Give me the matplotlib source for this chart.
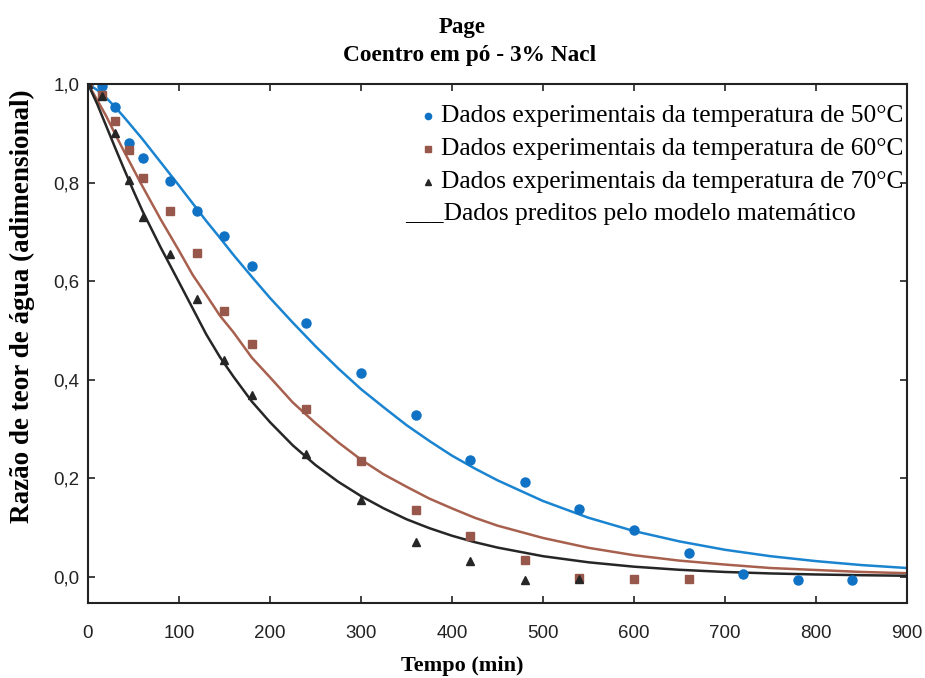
import matplotlib
matplotlib.use("Agg")
import matplotlib.pyplot as plt
from matplotlib.ticker import FuncFormatter

# experimental data (time in min, moisture ratio)
t_50 = [0, 15, 30, 45, 60, 90, 120, 150, 180, 240, 300, 360, 420, 480, 540, 600, 660, 720, 780, 840]
mr_50 = [1.0, 0.995, 0.953, 0.88, 0.85, 0.803, 0.742, 0.692, 0.631, 0.515, 0.414, 0.329, 0.237,
         0.193, 0.138, 0.095, 0.049, 0.006, -0.006, -0.006]

t_60 = [0, 15, 30, 45, 60, 90, 120, 150, 180, 240, 300, 360, 420, 480, 540, 600, 660]
mr_60 = [1.0, 0.977, 0.925, 0.866, 0.809, 0.742, 0.657, 0.54, 0.473, 0.341, 0.235, 0.136,
         0.083, 0.034, -0.003, -0.005, -0.005]

t_70 = [0, 15, 30, 45, 60, 90, 120, 150, 180, 240, 300, 360, 420, 480, 540]
mr_70 = [1.0, 0.975, 0.90, 0.805, 0.73, 0.655, 0.564, 0.44, 0.369, 0.25, 0.156, 0.071,
         0.032, -0.006, -0.004]

# predicted curves (Page model)
t_model = [0, 10, 20, 30, 40, 50, 60, 80, 100, 115, 130, 145, 160, 180, 200, 225, 250, 275,
           300, 325, 350, 375, 400, 425, 450, 500, 550, 600, 650, 700, 750, 800, 850, 900]
model_50 = [1.0, 0.988, 0.972, 0.953, 0.932, 0.910, 0.888, 0.841, 0.794, 0.758, 0.722, 0.688,
            0.653, 0.609, 0.566, 0.516, 0.468, 0.423, 0.381, 0.344, 0.308, 0.276, 0.246, 0.220,
            0.196, 0.154, 0.120, 0.093, 0.072, 0.055, 0.042, 0.032, 0.024, 0.018]
model_60 = [1.0, 0.968, 0.935, 0.898, 0.862, 0.827, 0.792, 0.725, 0.662, 0.613, 0.572, 0.530,
            0.496, 0.445, 0.405, 0.354, 0.312, 0.273, 0.238, 0.208, 0.183, 0.159, 0.139, 0.120,
            0.104, 0.079, 0.059, 0.044, 0.033, 0.025, 0.018, 0.014, 0.010, 0.0075]
model_70 = [1.0, 0.960, 0.915, 0.870, 0.826, 0.783, 0.742, 0.668, 0.598, 0.545, 0.492, 0.446,
            0.406, 0.356, 0.314, 0.267, 0.227, 0.193, 0.164, 0.139, 0.117, 0.099, 0.0835,
            0.0705, 0.0595, 0.042, 0.0296, 0.0207, 0.0144, 0.010, 0.007, 0.0049, 0.0034, 0.0023]

legend_labels = [
    "Dados experimentais da temperatura de 50°C",
    "Dados experimentais da temperatura de 60°C",
    "Dados experimentais da temperatura de 70°C",
]
model_label = "___Dados preditos pelo modelo matemático"

c_blue = "#0f72c4"
c_brown = "#98574b"
c_black = "#262626"

fig = plt.figure(figsize=(9.25, 6.78), dpi=100)
ax = fig.add_axes([0.0951, 0.1106, 0.8854, 0.7655])

ax.plot(t_model, model_50, color="#1a84d0", lw=1.8)
ax.plot(t_model, model_60, color="#a8604e", lw=1.8)
ax.plot(t_model, model_70, color=c_black, lw=1.8)

ax.plot(t_50, mr_50, "o", color=c_blue, ms=6.5, ls="none")
ax.plot(t_60, mr_60, "s", color=c_brown, ms=6, ls="none")
ax.plot(t_70, mr_70, "^", color=c_black, ms=6, ls="none")

ax.set_xlim(0, 900)
ax.set_ylim(-0.053, 1.0)
ax.set_xticks(range(0, 901, 100))
ax.set_yticks([0.0, 0.2, 0.4, 0.6, 0.8, 1.0])
ax.yaxis.set_major_formatter(FuncFormatter(lambda v, p: f"{v:.1f}".replace(".", ",")))
ax.tick_params(direction="in", length=5, width=1.2, top=True, right=True, colors="#222222")
ax.tick_params(axis="x", pad=16)
ax.tick_params(axis="y", pad=6)
for lab in ax.get_xticklabels() + ax.get_yticklabels():
    lab.set_fontfamily("Liberation Sans")
    lab.set_fontsize(13.5)
for s in ax.spines.values():
    s.set_linewidth(1.5)
    s.set_color("#222222")

serif = "Liberation Serif"
fig.text(0.5, 0.018, "Tempo (min)", ha="center", va="center", fontfamily=serif,
         fontweight="bold", fontsize=16)
fig.text(0.024, 0.549, "Razão de teor de água (adimensional)", ha="center", va="center",
         rotation=90, fontfamily=serif, fontweight="bold", fontsize=19.5)
fig.text(0.5, 0.96, "Page", ha="center", va="center", fontfamily=serif, fontweight="bold", fontsize=16.5)
fig.text(0.508, 0.918, "Coentro em pó - 3% Nacl", ha="center", va="center", fontfamily=serif,
         fontweight="bold", fontsize=16.8)

# legend drawn by hand to match the original layout
leg_y = [0.938, 0.875, 0.811]
leg_markers = [("o", c_blue), ("s", c_brown), ("^", c_black)]
for y, (m, c), text in zip(leg_y, leg_markers, legend_labels):
    ax.plot([0.415], [y], marker=m, color=c, ms=4.5, transform=ax.transAxes, clip_on=False)
    ax.text(0.431, y, text, transform=ax.transAxes, fontfamily=serif, fontsize=18.4,
            va="center", ha="left")
ax.text(0.387, 0.749, model_label, transform=ax.transAxes, fontfamily=serif, fontsize=18.4,
        va="center", ha="left")

fig.savefig("out.png", dpi=100)
